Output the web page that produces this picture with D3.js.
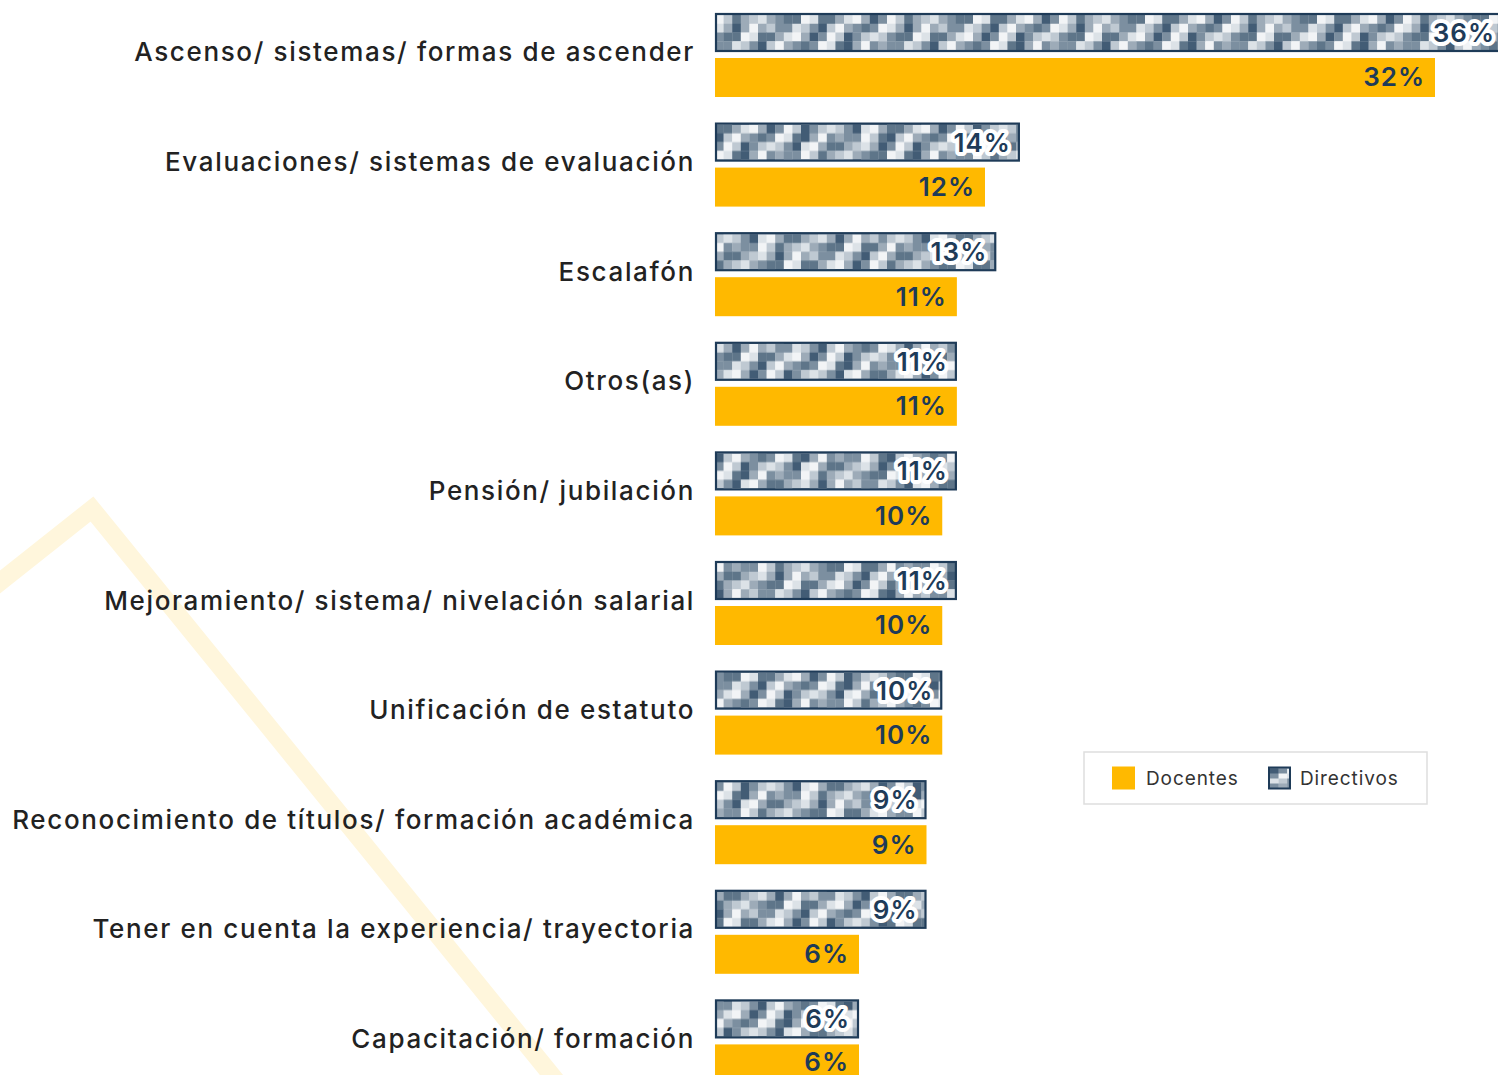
<!DOCTYPE html>
<html>
<head>
<meta charset="utf-8">
<script src="https://cdn.jsdelivr.net/npm/d3@7"></script>
<style>
  body { margin: 0; background: #ffffff; }
  svg { display: block; }
</style>
</head>
<body>
<div id="chart"></div>
<script>
// ------------------------------------------------------------
// Paired horizontal bars: Directivos (patterned) vs Docentes
// ------------------------------------------------------------

const categories = [
  "Ascenso/ sistemas/ formas de ascender",
  "Evaluaciones/ sistemas de evaluación",
  "Escalafón",
  "Otros(as)",
  "Pensión/ jubilación",
  "Mejoramiento/ sistema/ nivelación salarial",
  "Unificación de estatuto",
  "Reconocimiento de títulos/ formación académica",
  "Tener en cuenta la experiencia/ trayectoria",
  "Capacitación/ formación"
];

const series = ["Directivos", "Docentes"];

// % (labels are rounded)
const directivos = [36.0, 13.55, 12.5, 10.75, 10.75, 10.75, 10.1, 9.4, 9.4, 6.4];
const docentes   = [32.0, 12.0, 10.75, 10.75, 10.1, 10.1, 10.1, 9.4, 6.4, 6.4];

const width = 1498;
const height = 1075;

const YELLOW = "#ffb900";
const NAVY = "#1e3b58";
const LABEL_FONT = "Inter, 'Open Sans', sans-serif";

const svg = d3.select("#chart").append("svg")
    .attr("width", width)
    .attr("height", height);

const defs = svg.append("defs");

// Background chevron (decoration)
svg.append("polyline")
    .attr("points", "-20,598 92,509 562,1088")
    .attr("fill", "none")
    .attr("stroke", "#fff6dc")
    .attr("stroke-width", 18);

// Scales
const x = d3.scaleLinear().domain([0, 32]).range([715, 1435]);

const y = d3.scaleBand()
    .domain(categories)
    .range([13, 1083.4])
    .paddingInner(0.2336)
    .paddingOuter(0);

const ySub = d3.scaleBand()
    .domain(series)
    .range([0, y.bandwidth()])
    .paddingInner(6 / 45);

// Pixel checker pattern for Directivos bars
const shades = ["#f2f4f6", "#dce2e7", "#bfc9d2", "#9dabb8", "#7c8fa0", "#5e7589", "#425c75"];
const stripe = [0, 2, 4, 5, 3];
const jitter = [0, 1, -1, 1, 0, -1, 1, 0, -2, 1, 0, 2, -1];
const cellW = 8.6, rows = 4, cols = 20;

function makePattern(parent, id, x0, y0, h, seed) {
    const cellH = h / rows;
    const p = parent.append("pattern")
        .attr("id", id)
        .attr("patternUnits", "userSpaceOnUse")
        .attr("width", cellW * cols)
        .attr("height", h)
        .attr("patternTransform", `translate(${x0},${y0})`);
    for (let r = 0; r < rows; r++) {
        for (let c = 0; c < cols; c++) {
            let k = stripe[(c + r + seed) % stripe.length] +
                jitter[(c * 7 + r * 5 + seed * 3) % jitter.length];
            k = Math.max(0, Math.min(shades.length - 1, k));
            p.append("rect")
                .attr("x", c * cellW)
                .attr("y", r * cellH)
                .attr("width", cellW + 0.3)
                .attr("height", cellH + 0.3)
                .attr("fill", shades[k]);
        }
    }
}

const rowsData = categories.map((c, i) => ({
    cat: c, i, dir: directivos[i], doc: docentes[i]
}));

// Category labels
svg.append("g")
    .selectAll("text")
    .data(rowsData)
    .enter().append("text")
    .attr("x", 695)
    .attr("y", d => y(d.cat) + y.bandwidth() / 2 - 3)
    .attr("text-anchor", "end")
    .attr("dominant-baseline", "central")
    .style("font-family", LABEL_FONT)
    .style("font-size", "26px")
    .style("font-weight", 500)
    .style("letter-spacing", "1.65px")
    .style("fill", "#222")
    .text(d => d.cat);

// Directivos bars
const dirG = svg.append("g");
rowsData.forEach(d => {
    const by = y(d.cat) + ySub("Directivos");
    const bh = ySub.bandwidth();
    makePattern(defs, "pat" + d.i, x(0), by + 2, bh - 4, d.i * 2);
    dirG.append("rect")
        .attr("x", x(0) + 1)
        .attr("y", by + 1)
        .attr("width", x(d.dir) - x(0) - 2)
        .attr("height", bh - 2)
        .attr("fill", `url(#pat${d.i})`)
        .attr("stroke", NAVY)
        .attr("stroke-width", 2.2);
});

// Docentes bars
svg.append("g")
    .selectAll("rect")
    .data(rowsData)
    .enter().append("rect")
    .attr("x", x(0))
    .attr("y", d => y(d.cat) + ySub("Docentes"))
    .attr("width", d => x(d.doc) - x(0))
    .attr("height", ySub.bandwidth())
    .attr("fill", YELLOW);

// Value labels
const fmt = v => Math.round(v) + "%";

svg.append("g")
    .selectAll("text")
    .data(rowsData)
    .enter().append("text")
    .attr("x", d => Math.min(x(d.dir) - 9, width - 3))
    .attr("y", d => y(d.cat) + ySub("Directivos") + ySub.bandwidth() / 2)
    .attr("text-anchor", "end")
    .attr("dominant-baseline", "central")
    .style("font-family", LABEL_FONT)
    .style("font-size", "26px")
    .style("font-weight", 600)
    .style("letter-spacing", "1px")
    .style("fill", NAVY)
    .style("stroke", "#fff")
    .style("stroke-width", 8)
    .style("stroke-linejoin", "round")
    .style("paint-order", "stroke")
    .text(d => fmt(d.dir));

svg.append("g")
    .selectAll("text")
    .data(rowsData)
    .enter().append("text")
    .attr("x", d => x(d.doc) - 10)
    .attr("y", d => Math.min(y(d.cat) + ySub("Docentes") + ySub.bandwidth() / 2 - 0.5, height - 14))
    .attr("text-anchor", "end")
    .attr("dominant-baseline", "central")
    .style("font-family", LABEL_FONT)
    .style("font-size", "26px")
    .style("font-weight", 600)
    .style("letter-spacing", "1px")
    .style("fill", NAVY)
    .text(d => fmt(d.doc));

// Legend
const legend = svg.append("g").attr("transform", "translate(1084,752)");
const legendDefs = legend.append("defs");
legend.append("rect")
    .attr("width", 343).attr("height", 52)
    .attr("fill", "#fff")
    .attr("stroke", "#dedede")
    .attr("stroke-width", 1.5);

legend.append("rect")
    .attr("x", 28).attr("y", 14.5)
    .attr("width", 23).attr("height", 23)
    .attr("fill", YELLOW);
legend.append("text")
    .attr("x", 62).attr("y", 26)
    .attr("dominant-baseline", "central")
    .style("font-family", LABEL_FONT)
    .style("font-size", "19px")
    .style("letter-spacing", "0.9px")
    .style("fill", "#333")
    .text("Docentes");

makePattern(legendDefs, "patLegend", 186, 16.5, 20, 3);
legend.append("rect")
    .attr("x", 185).attr("y", 15.5)
    .attr("width", 21).attr("height", 21)
    .attr("fill", "url(#patLegend)")
    .attr("stroke", NAVY)
    .attr("stroke-width", 2);
legend.append("text")
    .attr("x", 216).attr("y", 26)
    .attr("dominant-baseline", "central")
    .style("font-family", LABEL_FONT)
    .style("font-size", "19px")
    .style("letter-spacing", "0.9px")
    .style("fill", "#333")
    .text("Directivos");
</script>
</body>
</html>
